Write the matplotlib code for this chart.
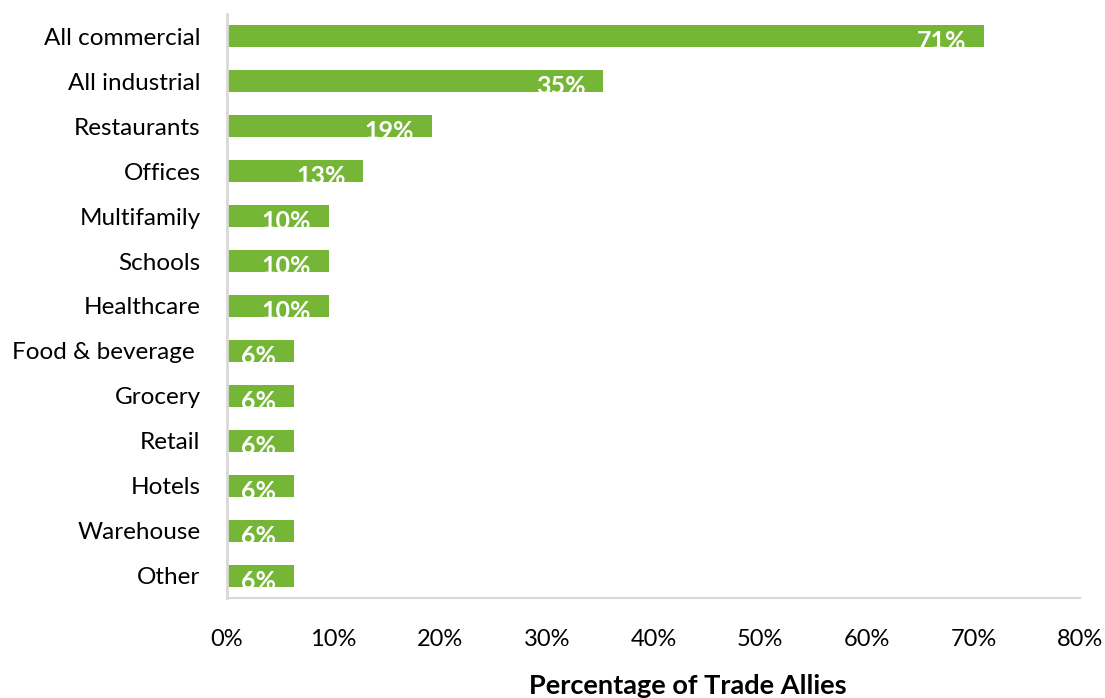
import matplotlib.pyplot as plt
from matplotlib.ticker import FuncFormatter

categories = [
    "All commercial", "All industrial", "Restaurants", "Offices", "Multifamily",
    "Schools", "Healthcare", "Food & beverage ", "Grocery", "Retail", "Hotels",
    "Warehouse", "Other",
]
shares = [71, 35, 19, 13, 10, 10, 10, 6, 6, 6, 6, 6, 6]
# plotted lengths (rounded labels above, bars drawn from the underlying share)
bar_values = [71.0, 35.3, 19.2, 12.8, 9.6, 9.6, 9.6, 6.3, 6.3, 6.3, 6.3, 6.3, 6.3]
x_ticks = [0, 10, 20, 30, 40, 50, 60, 70, 80]

GREEN = "#76b636"
SPINE = "#d9d9d9"

plt.rcParams["font.family"] = ["Lato", "DejaVu Sans"]

fig = plt.figure(figsize=(11.05, 6.98), dpi=100)
ax = fig.add_axes([227 / 1105, 1 - 598 / 698, (1080 - 227) / 1105, (598 - 14) / 698])

ypos = list(range(len(categories)))
ax.barh(ypos, bar_values, height=0.49, color=GREEN, zorder=2)

for y, v, s in zip(ypos, bar_values, shares):
    ax.annotate(f"{s}%", xy=(v, y), xytext=(-18, -13), textcoords="offset pixels",
                ha="right", va="baseline", color="white", fontsize=18,
                fontweight="bold", zorder=3)

ax.set_xlim(0, 80)
ax.set_ylim(len(categories) - 0.5, -0.5)
ax.set_yticks(ypos)
ax.set_yticklabels(categories, fontsize=17.5, va="center_baseline")
ax.set_xticks(x_ticks)
ax.xaxis.set_major_formatter(FuncFormatter(lambda v, _: f"{v:.0f}%"))
ax.tick_params(axis="x", length=0, pad=22, labelsize=17)
ax.tick_params(axis="y", length=0, pad=19)

for side in ("top", "right"):
    ax.spines[side].set_visible(False)
ax.spines["left"].set_color(SPINE)
ax.spines["left"].set_linewidth(2)
ax.spines["bottom"].set_color(SPINE)
ax.spines["bottom"].set_linewidth(1.5)

fig.text(688 / 1105, 1 - 686 / 698, "Percentage of Trade Allies", ha="center",
         va="center", fontsize=19.5, fontweight="bold")

fig.savefig("out.png", dpi=100)
